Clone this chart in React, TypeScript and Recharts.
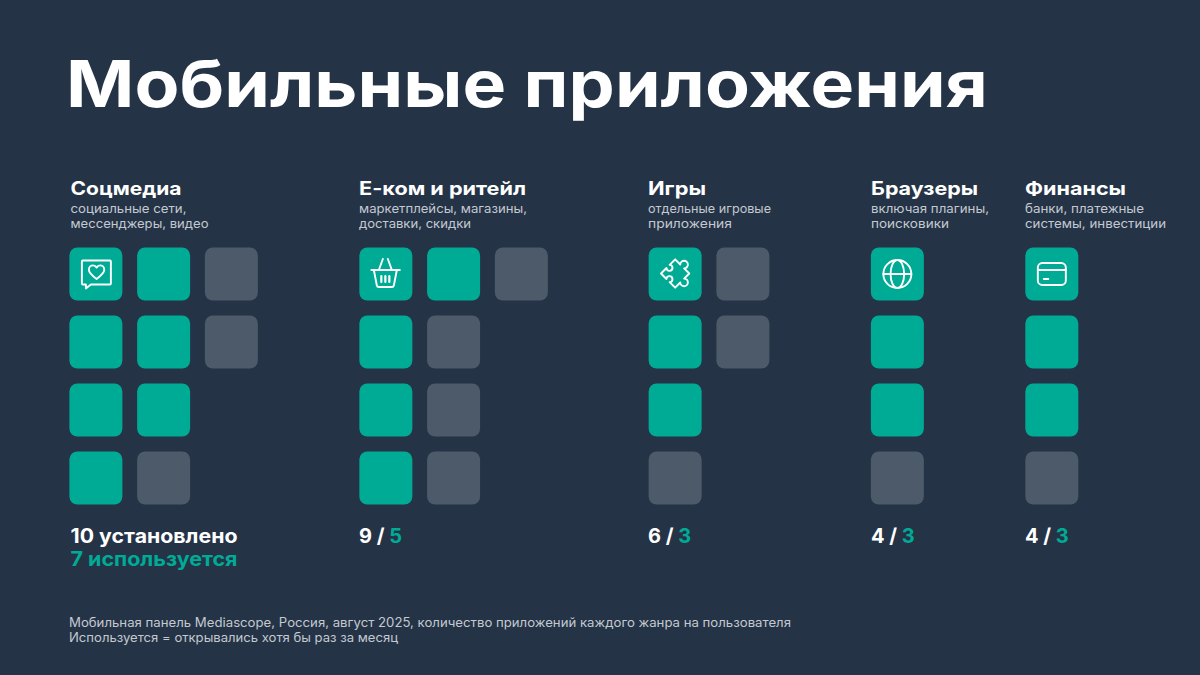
import { ScatterChart, Scatter, XAxis, YAxis } from 'recharts';

const genres = ['Соцмедиа', 'Е-ком и ритейл', 'Игры', 'Браузеры', 'Финансы'];
const notes = [
  ['социальные сети,', 'мессенджеры, видео'],
  ['маркетплейсы, магазины,', 'доставки, скидки'],
  ['отдельные игровые', 'приложения'],
  ['включая плагины,', 'поисковики'],
  ['банки, платежные', 'системы, инвестиции'],
];
const installed = [10, 9, 6, 4, 4];
const used = [7, 5, 3, 3, 3];
// apps per row of the pictogram, top to bottom
const installedRows = [
  [3, 3, 2, 2],
  [3, 2, 2, 2],
  [2, 2, 1, 1],
  [1, 1, 1, 1],
  [1, 1, 1, 1],
];
const usedRows = [
  [2, 2, 2, 1],
  [2, 1, 1, 1],
  [1, 1, 1, 0],
  [1, 1, 1, 0],
  [1, 1, 1, 0],
];

const BG = '#253346';
const TEAL = '#00AB96';
const GRAY = '#4D5A69';
const NOTE = '#C3C9D1';
const FONT = 'Inter, sans-serif';

// layout only: left edge of each group in px, group starts in grid columns, text widths
const groupLeft = [70.5, 359, 648, 871, 1025];
const groupColumn = [0, 4.28, 8.55, 11.83, 14.11];
const titleWidth = [111, 167, 58, 107, 101];
const noteWidth = [
  [116, 138],
  [168, 112],
  [123, 84],
  [118, 78],
  [119, 141],
];
const PITCH_X = 67.75;
const CELL = 53;

type Cell = { col: number; row: number; genre: number; first: boolean };

const usedCells: Cell[] = [];
const idleCells: Cell[] = [];
installedRows.forEach((rows, genre) => {
  rows.forEach((count, row) => {
    for (let i = 0; i < count; i++) {
      const cell = { col: groupColumn[genre] + i + 0.5, row: row + 0.5, genre, first: row === 0 && i === 0 };
      (i < usedRows[genre][row] ? usedCells : idleCells).push(cell);
    }
  });
});

const Icon = ({ genre }: { genre: number }) => {
  const common = { fill: 'none', stroke: '#fff', strokeWidth: 1.9, strokeLinecap: 'round' as const, strokeLinejoin: 'round' as const };
  if (genre === 0) {
    return (
      <g {...common}>
        <path d="M-13 -13.5H14a1 1 0 0 1 1 1V9.5a1 1 0 0 1 -1 1H-5L-10 14.5V10.5H-13a1 1 0 0 1 -1 -1V-12.5a1 1 0 0 1 1 -1Z" />
        <path d="M0.7 5C-4 1.5 -7 -1 -7 -4.2C-7 -7 -4.8 -8.6 -2.8 -8.6C-1.3 -8.6 0 -7.8 0.7 -6.4C1.4 -7.8 2.7 -8.6 4.2 -8.6C6.2 -8.6 8.4 -7 8.4 -4.2C8.4 -1 5.4 1.5 0.7 5Z" />
      </g>
    );
  }
  if (genre === 1) {
    return (
      <g {...common}>
        <path d="M-14.5 -4H14M-12 -4L-9 11.5C-8.8 12.6 -8 13 -7 13H6C7 13 7.8 12.6 8 11.5L11 -4" />
        <path d="M-7 -4L-3 -15M6 -4L2 -15" />
        <path d="M-4.5 2V8M-0.5 2V8M3.5 2V8" strokeWidth={2.2} />
      </g>
    );
  }
  if (genre === 2) {
    return (
      <g {...common} transform="translate(0 -0.5) rotate(45)">
        <path d="M-10 -10H-2.75a3.8 3.8 0 1 1 5.5 0H10V-2.75a3.8 3.8 0 1 1 0 5.5V10H2.25a3 3 0 1 0 -4.5 0H-10V2.25a3 3 0 1 0 0 -4.5Z" />
      </g>
    );
  }
  if (genre === 3) {
    return (
      <g {...common}>
        <circle r={14} />
        <ellipse rx={6.8} ry={14} />
        <path d="M-14 0H14" />
      </g>
    );
  }
  return (
    <g {...common}>
      <rect x={-14} y={-11} width={28} height={22} rx={4.5} />
      <path d="M-14 -4H14" />
      <path d="M-8 5H-3.5" />
    </g>
  );
};

const Tile = (props: any) => {
  const { cx, cy, payload, fill } = props;
  return (
    <g transform={`translate(${cx} ${cy})`}>
      <rect x={-CELL / 2} y={-CELL / 2} width={CELL} height={CELL} rx={8} fill={fill} />
      {payload.first && <Icon genre={payload.genre} />}
    </g>
  );
};

export default function App() {
  return (
    <div style={{ position: 'absolute', left: 0, top: 0, width: 1200, height: 675, background: BG, overflow: 'hidden' }}>
      <div style={{ position: 'absolute', left: 62, top: 239.5 }}>
        <ScatterChart width={1138} height={272} margin={{ top: 0, right: 0, bottom: 0, left: 0 }}>
          <XAxis type="number" dataKey="col" domain={[0, 1138 / PITCH_X]} hide />
          <YAxis type="number" dataKey="row" domain={[0, 4]} reversed hide />
          <Scatter data={usedCells} fill={TEAL} shape={Tile} isAnimationActive={false} />
          <Scatter data={idleCells} fill={GRAY} shape={Tile} isAnimationActive={false} />
        </ScatterChart>
      </div>
      <svg width={1200} height={675} style={{ position: 'absolute', left: 0, top: 0, pointerEvents: 'none' }} fontFamily={FONT}>
        <text x={66} y={107} fontSize={65} fontWeight={700} fill="#fff" textLength={922} lengthAdjust="spacingAndGlyphs">
          Мобильные приложения
        </text>
        {genres.map((name, i) => (
          <g key={name}>
            <text x={groupLeft[i]} y={195} fontSize={18.5} fontWeight={700} fill="#fff" textLength={titleWidth[i]} lengthAdjust="spacingAndGlyphs">
              {name}
            </text>
            <text x={groupLeft[i]} y={213} fontSize={12.5} fill={NOTE} textLength={noteWidth[i][0]} lengthAdjust="spacingAndGlyphs">
              {notes[i][0]}
            </text>
            <text x={groupLeft[i]} y={228} fontSize={12.5} fill={NOTE} textLength={noteWidth[i][1]} lengthAdjust="spacingAndGlyphs">
              {notes[i][1]}
            </text>
            {i > 0 && (
              <text x={groupLeft[i]} y={543} fontSize={20} fontWeight={700} fill="#fff">
                {installed[i]} / <tspan fill={TEAL}>{used[i]}</tspan>
              </text>
            )}
          </g>
        ))}
        <text x={groupLeft[0]} y={543} fontSize={19.5} fontWeight={700} fill="#fff" textLength={167} lengthAdjust="spacingAndGlyphs">
          {installed[0]} установлено
        </text>
        <text x={groupLeft[0]} y={566} fontSize={19.5} fontWeight={700} fill={TEAL} textLength={167} lengthAdjust="spacingAndGlyphs">
          {used[0]} используется
        </text>
        <text x={69} y={627} fontSize={12.5} fill={NOTE} textLength={722} lengthAdjust="spacingAndGlyphs">
          Мобильная панель Mediascope, Россия, август 2025, количество приложений каждого жанра на пользователя
        </text>
        <text x={69} y={642} fontSize={12.5} fill={NOTE} textLength={329} lengthAdjust="spacingAndGlyphs">
          Используется = открывались хотя бы раз за месяц
        </text>
      </svg>
    </div>
  );
}
